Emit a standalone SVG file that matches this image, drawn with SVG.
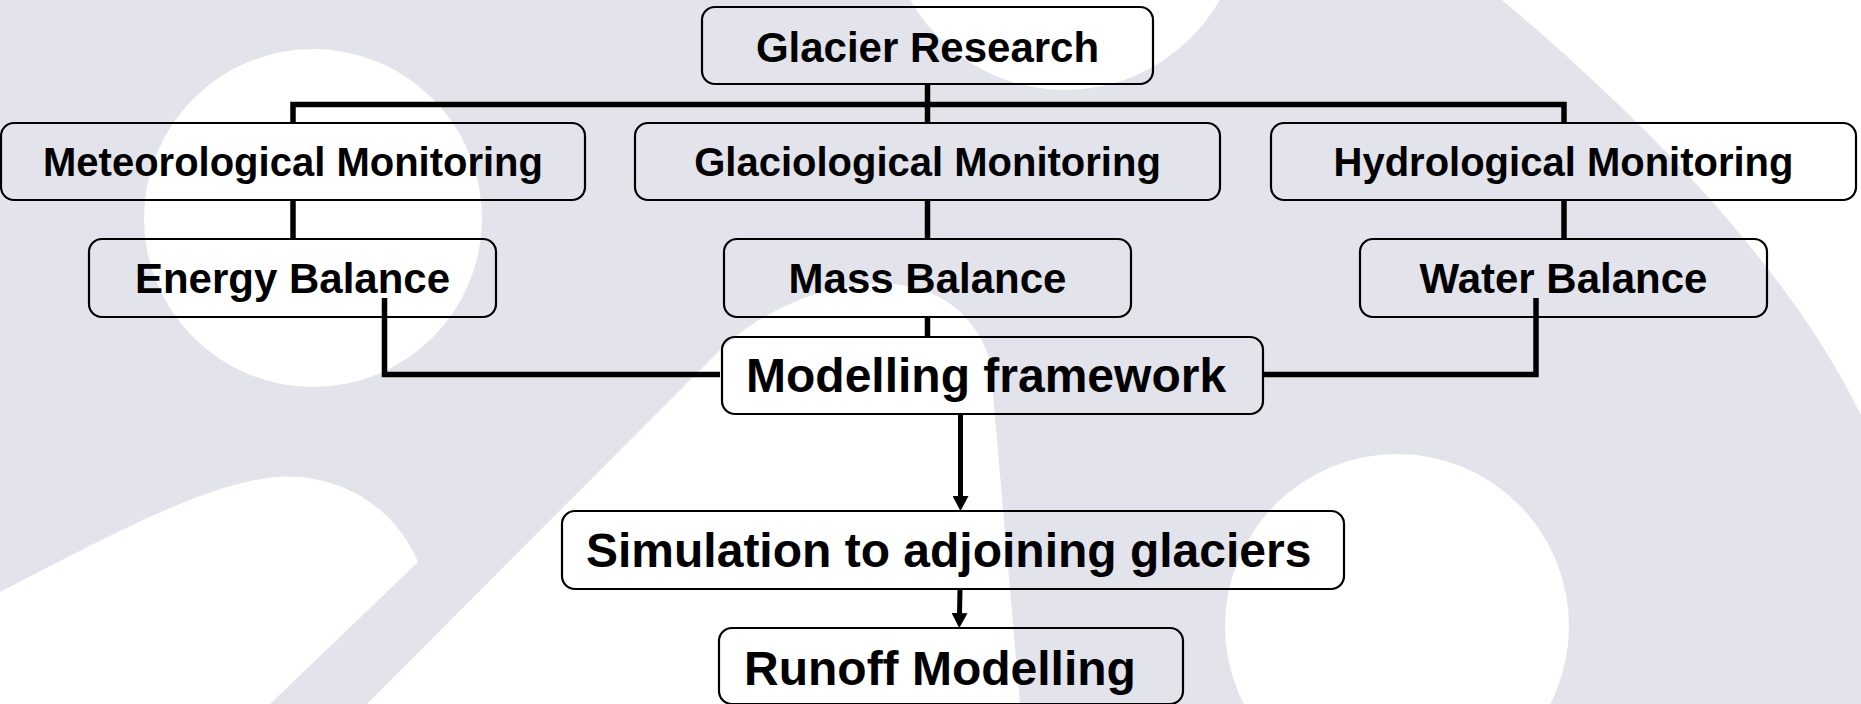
<svg xmlns="http://www.w3.org/2000/svg" width="1861" height="704" viewBox="0 0 1861 704">
  <style>
    .bg { fill: #e3e3ec; }
    .wh { fill: #ffffff; }
    .box { fill: none; stroke: #000; stroke-width: 2.2; }
    .lbl { font-family: "Liberation Sans", Arial, sans-serif; font-weight: bold; fill: #000; }
    .m { font-size: 40px; }
    .b { font-size: 42px; }
    .l { font-size: 48px; }
    .con { fill: none; stroke: #000; stroke-width: 5.5; stroke-linejoin: miter; }
    .arr { fill: none; stroke: #000; stroke-width: 5; }
  </style>
  <defs>
    <marker id="ah" markerUnits="userSpaceOnUse" viewBox="0 0 16 16" markerWidth="16" markerHeight="16" refX="2" refY="8" orient="auto">
      <path d="M0,0 L15,8 L0,16 z" fill="#000"/>
    </marker>
  </defs>

  <g id="background">
    <rect class="bg" x="0" y="0" width="1861" height="704"/>
    <circle class="wh" cx="313" cy="218" r="169"/>
    <circle class="wh" cx="1065" cy="-88" r="178"/>
    <circle class="wh" cx="1397" cy="626" r="172"/>
    <path class="wh" d="M0 592 C120 530 230 470 300 477 C370 484 405 530 418 562 L270 704 L0 704 Z"/>
    <path class="wh" d="M367 704 L718 352 C790 280 950 240 990 360 L1020 704 Z"/>
    <path class="wh" d="M1502 0 C1620 100 1780 250 1861 415 L1861 0 Z"/>
  </g>

  <g id="connectors">
    <path class="con" d="M927.5 84 V123"/>
    <path class="con" d="M293 123 V104.5 H1564 V123"/>
    <path class="con" d="M293 200 V239"/>
    <path class="con" d="M927.5 200 V239"/>
    <path class="con" d="M1564 200 V239"/>
    <path class="con" d="M927.5 317 V337"/>
    <path class="con" d="M384.5 298 V374.5 H720"/>
    <path class="con" d="M1536 298 V374.5 H1263"/>
    <line class="arr" x1="960.5" y1="414" x2="960.5" y2="498" marker-end="url(#ah)"/>
    <line class="arr" x1="960" y1="589" x2="959.5" y2="615" marker-end="url(#ah)"/>
  </g>

  <g id="glacier-research">
    <rect class="box" x="702" y="7" width="451" height="77" rx="13"/>
    <text class="lbl b" x="927.5" y="62" text-anchor="middle">Glacier Research</text>
  </g>
  <g id="meteorological-monitoring">
    <rect class="box" x="1" y="123" width="584" height="77" rx="13"/>
    <text class="lbl m" x="293" y="176" text-anchor="middle">Meteorological Monitoring</text>
  </g>
  <g id="glaciological-monitoring">
    <rect class="box" x="635" y="123" width="585" height="77" rx="13"/>
    <text class="lbl m" x="927.5" y="176" text-anchor="middle">Glaciological Monitoring</text>
  </g>
  <g id="hydrological-monitoring">
    <rect class="box" x="1271" y="123" width="585" height="77" rx="13"/>
    <text class="lbl m" x="1563.5" y="176" text-anchor="middle">Hydrological Monitoring</text>
  </g>
  <g id="energy-balance">
    <rect class="box" x="89" y="239" width="407" height="78" rx="13"/>
    <text class="lbl b" x="292.5" y="293" text-anchor="middle">Energy Balance</text>
  </g>
  <g id="mass-balance">
    <rect class="box" x="724" y="239" width="407" height="78" rx="13"/>
    <text class="lbl b" x="927.5" y="293" text-anchor="middle">Mass Balance</text>
  </g>
  <g id="water-balance">
    <rect class="box" x="1360" y="239" width="407" height="78" rx="13"/>
    <text class="lbl b" x="1563.5" y="293" text-anchor="middle">Water Balance</text>
  </g>
  <g id="modelling-framework">
    <rect class="box" x="722" y="337" width="541" height="77" rx="13"/>
    <text class="lbl l" x="746" y="392">Modelling framework</text>
  </g>
  <g id="simulation">
    <rect class="box" x="562" y="511" width="782" height="78" rx="13"/>
    <text class="lbl l" x="586" y="567">Simulation to adjoining glaciers</text>
  </g>
  <g id="runoff-modelling">
    <rect class="box" x="719" y="628" width="464" height="76" rx="13"/>
    <text class="lbl l" x="744" y="685">Runoff Modelling</text>
  </g>
</svg>
